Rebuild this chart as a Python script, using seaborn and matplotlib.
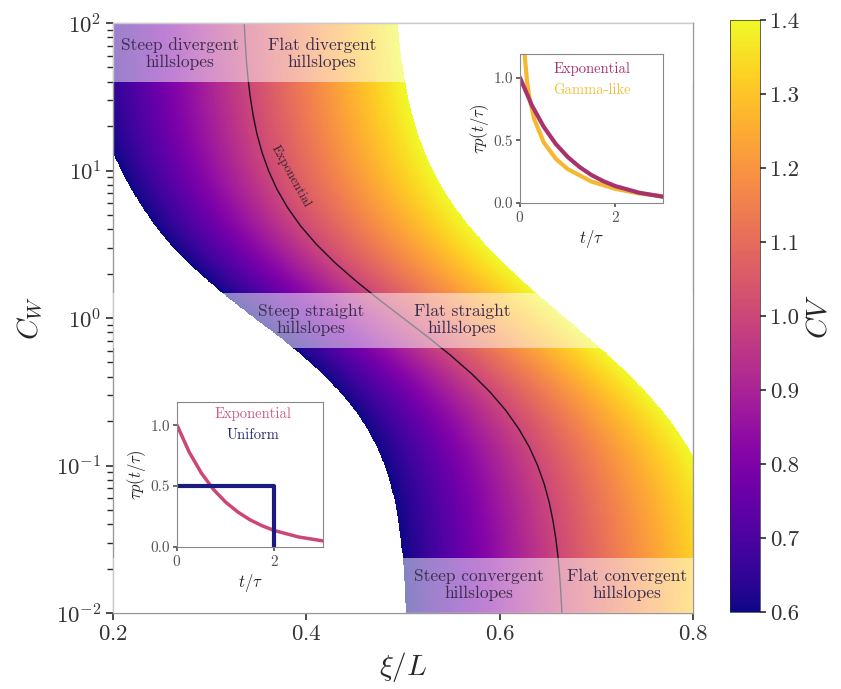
import numpy as np
import matplotlib
matplotlib.use("Agg")
import matplotlib.pyplot as plt
import seaborn as sns

# log10(C_W) levels where the CV contours were read (-2 ... 2, step 1/8)
log_cw = [k / 8 for k in range(-16, 17)]
# xi/L of CV = 0.6 (left edge of coloured region)
xi_cv06 = [0.5029, 0.5021, 0.5011, 0.4997, 0.4977, 0.4951, 0.4917, 0.4871,
           0.4810, 0.4731, 0.4630, 0.4503, 0.4346, 0.4161, 0.3948, 0.3715,
           0.3460,
           0.3215, 0.2985, 0.2775, 0.2590, 0.2435, 0.2305, 0.2185, 0.2085,
           0.1995, 0.1925, 0.1870, 0.1830, 0.1800, 0.1780, 0.1765, 0.1750]
# xi/L of CV = 1.0 (exponential, black line)
xi_cv10 = [0.6643, 0.6633, 0.6621, 0.6604, 0.6581, 0.6551, 0.6512, 0.6460,
           0.6392, 0.6306, 0.6196, 0.6061, 0.5897, 0.5705, 0.5486, 0.5249,
           0.5000,
           0.4751, 0.4514, 0.4295, 0.4103, 0.3939, 0.3804, 0.3694, 0.3608,
           0.3540, 0.3488, 0.3449, 0.3419, 0.3396, 0.3379, 0.3367, 0.3357]
# xi/L of CV = 1.4 (right edge of coloured region)
xi_cv14 = [0.8415, 0.8397, 0.8375, 0.8346, 0.8309, 0.8264, 0.8207, 0.8137,
           0.8051, 0.7947, 0.7823, 0.7678, 0.7512, 0.7325, 0.7121, 0.6904,
           0.6680,
           0.6456, 0.6239, 0.6035, 0.5848, 0.5682, 0.5537, 0.5413, 0.5309,
           0.5223, 0.5153, 0.5096, 0.5051, 0.5014, 0.4985, 0.4963, 0.4945]
cv_levels = [0.6, 1.0, 1.4]

# insets
t_exp = [0, 0.25, 0.5, 0.75, 1.0, 1.25, 1.5, 1.75, 2.0, 2.5, 3.0]
p_exp = [1.0, 0.779, 0.607, 0.472, 0.368, 0.287, 0.223, 0.174, 0.135, 0.082, 0.050]
t_gam = [0.05, 0.07, 0.1, 0.15, 0.2, 0.3, 0.5, 0.75, 1.0, 1.5, 2.0, 2.5, 3.0]
p_gam = [1.59, 1.37, 1.17, 0.964, 0.834, 0.668, 0.483, 0.354, 0.271, 0.171, 0.113, 0.076, 0.053]
t_uni = [0, 2, 2]
p_uni = [0.5, 0.5, 0.0]

# band labels: (xi, C_W, text)
band_labels = [
    (0.269, 62, "Steep divergent\nhillslopes"),
    (0.416, 62, "Flat divergent\nhillslopes"),
    (0.405, 0.97, "Steep straight\nhillslopes"),
    (0.561, 0.97, "Flat straight\nhillslopes"),
    (0.578, 0.0155, "Steep convergent\nhillslopes"),
    (0.732, 0.0155, "Flat convergent\nhillslopes"),
]
bands = [(40, 100), (0.63, 1.47), (0.01, 0.0235)]

sns.set_theme(style="ticks")
plt.rcParams["font.family"] = "serif"
plt.rcParams["font.serif"] = ["cmr10", "DejaVu Serif"]
plt.rcParams["mathtext.fontset"] = "cm"
plt.rcParams["axes.formatter.use_mathtext"] = True
plt.rcParams["axes.unicode_minus"] = False

fig = plt.figure(figsize=(8.41, 6.89), dpi=100)
ax = fig.add_axes([0.1344, 0.1103, 0.6897, 0.8563])
cax = fig.add_axes([0.868, 0.1118, 0.0357, 0.859])

# CV field from the contour positions
xi_grid = np.linspace(0.2, 0.8, 1100)
u_grid = np.linspace(-2, 2, 1100)
cv = np.full((len(u_grid), len(xi_grid)), np.nan)
for i, u in enumerate(u_grid):
    l = np.interp(u, log_cw, xi_cv06)
    m = np.interp(u, log_cw, xi_cv10)
    r = np.interp(u, log_cw, xi_cv14)
    cv[i] = np.interp(xi_grid, [l, m, r], cv_levels, left=np.nan, right=np.nan)

mesh = ax.pcolormesh(xi_grid, 10 ** u_grid, cv, cmap="plasma", vmin=0.6, vmax=1.4,
                     shading="auto", rasterized=True, zorder=1)
sns.lineplot(x=xi_cv10, y=[10 ** v for v in log_cw], sort=False, ax=ax,
             color="#1a1020", lw=1.0, zorder=2)

for lo, hi in bands:
    ax.axhspan(lo, hi, color="white", alpha=0.5, lw=0, zorder=3)
for x, y, s in band_labels:
    ax.text(x, y, s, ha="center", va="center", fontsize=12.5, color="#3b2d4d",
            linespacing=1.15, zorder=4)
ax.text(0.384, 10 ** 0.96, "Exponential", rotation=-61, ha="center", va="center",
        fontsize=9.5, color="#3a2535", zorder=4)

ax.set_yscale("log")
ax.set_xlim(0.2, 0.8)
ax.set_ylim(1e-2, 1e2)
ax.set_xticks([0.2, 0.4, 0.6, 0.8])
ax.set_xlabel(r"$\xi/L$", fontsize=21, labelpad=4)
ax.set_ylabel(r"$C_W$", fontsize=21, labelpad=8)
ax.tick_params(labelsize=16.5, colors="#333333", length=5)
for sp in ax.spines.values():
    sp.set_color("#999999")
    sp.set_linewidth(1.0)
    sp.set_visible(True)

cb = fig.colorbar(mesh, cax=cax, ticks=np.arange(0.6, 1.41, 0.1), format="%.1f")
cb.outline.set_linewidth(0.5)
cb.ax.tick_params(labelsize=16.5, colors="#333333", length=4)
cb.set_label(r"$CV$", fontsize=21, labelpad=5)

# top inset: exponential vs gamma-like
ins1 = fig.add_axes([0.6183, 0.7054, 0.170, 0.2163])
sns.lineplot(x=t_gam, y=p_gam, ax=ins1, color="#f5b830", lw=3)
sns.lineplot(x=t_exp, y=p_exp, ax=ins1, color="#a8326e", lw=3)
ins1.text(0.5, 0.9, "Exponential", transform=ins1.transAxes, ha="center",
          va="center", fontsize=10.5, color="#a8326e")
ins1.text(0.5, 0.755, "Gamma-like", transform=ins1.transAxes, ha="center",
          va="center", fontsize=10.5, color="#f0c040")

# bottom inset: exponential vs uniform
ins2 = fig.add_axes([0.2105, 0.2061, 0.1736, 0.2104])
sns.lineplot(x=t_exp, y=p_exp, ax=ins2, color="#cc4778", lw=2.5)
ins2.plot(t_uni, p_uni, color="#1c1a7e", lw=3)
ins2.text(0.52, 0.92, "Exponential", transform=ins2.transAxes, ha="center",
          va="center", fontsize=10.5, color="#d05a88")
ins2.text(0.52, 0.77, "Uniform", transform=ins2.transAxes, ha="center",
          va="center", fontsize=10.5, color="#2a2a6a")

for ins in (ins1, ins2):
    ins.set_xlim(0, 3)
    ins.set_ylim(0, 1.19)
    ins.set_xticks([0, 2])
    ins.set_yticks([0.0, 0.5, 1.0])
    ins.set_yticklabels(["0.0", "0.5", "1.0"])
    ins.set_xlabel(r"$t/\tau$", fontsize=12, labelpad=2)
    ins.set_ylabel(r"$\tau p(t/\tau)$", fontsize=12, labelpad=2)
    ins.tick_params(labelsize=11, colors="#555555", length=3, pad=2)
    for sp in ins.spines.values():
        sp.set_color("#888888")
        sp.set_linewidth(0.8)

fig.savefig("out.png", dpi=100)
plt.close(fig)
